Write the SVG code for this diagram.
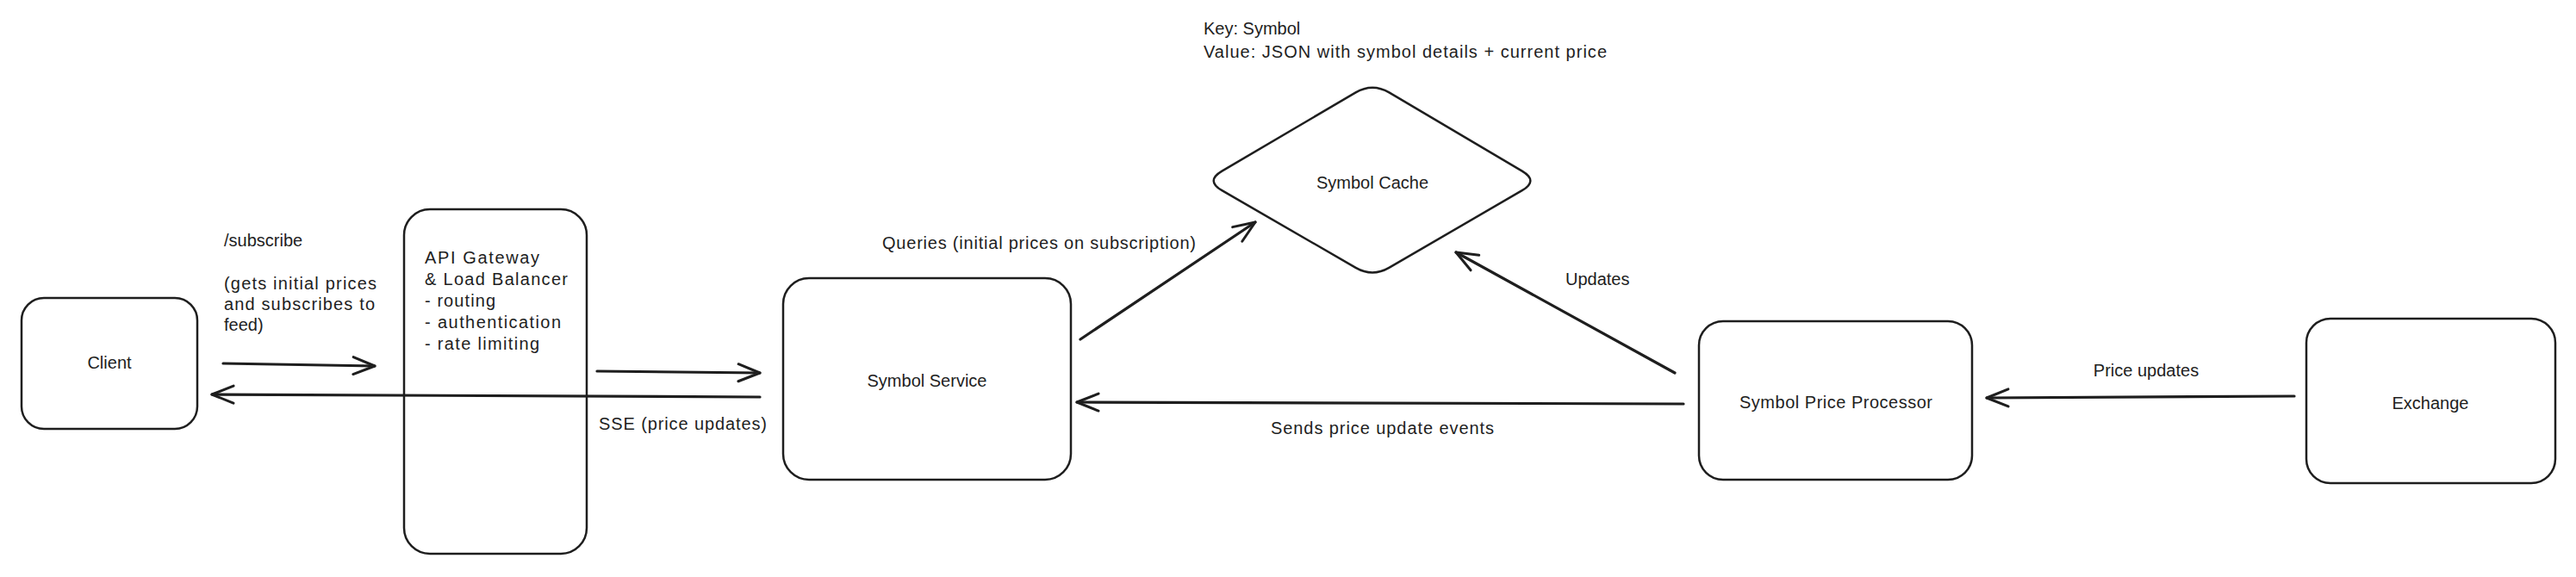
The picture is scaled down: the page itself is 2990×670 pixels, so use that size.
<svg xmlns="http://www.w3.org/2000/svg" width="2990" height="670" viewBox="0 0 2990 670">
<style>
  .node { fill: #ffffff; stroke: #1e1e1e; stroke-width: 2.5; }
  .conn { fill: none; stroke: #1e1e1e; stroke-width: 3.2; stroke-linecap: round; }
  text { font-family: "Liberation Sans", Arial, sans-serif; font-size: 20px; fill: #1e1e1e; }
  .c { text-anchor: middle; }
</style>
<defs>
  <marker id="arr" markerUnits="userSpaceOnUse" markerWidth="34" markerHeight="28" viewBox="-30 -14 34 28" refX="0" refY="0" orient="auto">
    <path d="M -25 -10 L 0 0 L -25 10" fill="none" stroke="#1e1e1e" stroke-width="3" stroke-linecap="round" stroke-linejoin="round"/>
  </marker>
</defs>
<rect width="2990" height="670" fill="#ffffff"/>

<g id="client">
  <rect class="node" x="25" y="346" width="204" height="152" rx="26"/>
  <text class="c" x="127" y="428">Client</text>
</g>

<g id="api-gateway">
  <rect class="node" x="469" y="243" width="212" height="400" rx="30"/>
  <text x="493" y="306" textLength="133">API Gateway</text>
  <text x="493" y="331" textLength="166">&amp; Load Balancer</text>
  <text x="493" y="356" textLength="82">- routing</text>
  <text x="493" y="381" textLength="158">- authentication</text>
  <text x="493" y="406" textLength="133">- rate limiting</text>
</g>

<g id="symbol-service">
  <rect class="node" x="909" y="323" width="334" height="234" rx="30"/>
  <text class="c" x="1076" y="449">Symbol Service</text>
</g>

<g id="symbol-cache">
  <path class="node" d="M 1418.4 198.6 L 1573.6 107.4 Q 1593 96 1612.4 107.4 L 1766.7 198.6 Q 1786 210 1766.7 221.2 L 1612.3 310.8 Q 1593 322 1573.6 310.8 L 1418.4 221.2 Q 1399 210 1418.4 198.6 Z"/>
  <text class="c" x="1593" y="219">Symbol Cache</text>
</g>

<g id="symbol-price-processor">
  <rect class="node" x="1972" y="373" width="317" height="184" rx="28"/>
  <text class="c" x="2131" y="474" textLength="224">Symbol Price Processor</text>
</g>

<g id="exchange">
  <rect class="node" x="2677" y="370" width="289" height="191" rx="28"/>
  <text class="c" x="2821" y="475">Exchange</text>
</g>

<g id="cache-note">
  <text x="1397" y="40">Key: Symbol</text>
  <text x="1397" y="67" textLength="468">Value: JSON with symbol details + current price</text>
</g>

<g id="connectors">
  <line class="conn" x1="259" y1="422" x2="435" y2="425" marker-end="url(#arr)"/>
  <line class="conn" x1="882" y1="461" x2="246" y2="458" marker-end="url(#arr)"/>
  <line class="conn" x1="693" y1="431" x2="882" y2="433" marker-end="url(#arr)"/>
  <line class="conn" x1="1254" y1="394" x2="1457" y2="258" marker-end="url(#arr)"/>
  <line class="conn" x1="1944" y1="433" x2="1690" y2="293" marker-end="url(#arr)"/>
  <line class="conn" x1="1954" y1="469" x2="1250" y2="467" marker-end="url(#arr)"/>
  <line class="conn" x1="2663" y1="460" x2="2306" y2="462" marker-end="url(#arr)"/>

  <text x="260" y="286">/subscribe</text>
  <text x="260" y="336" textLength="177">(gets initial prices</text>
  <text x="260" y="360" textLength="175">and subscribes to</text>
  <text x="260" y="384">feed)</text>
  <text x="695" y="499" textLength="195">SSE (price updates)</text>
  <text x="1024" y="289" textLength="364">Queries (initial prices on subscription)</text>
  <text x="1817" y="331">Updates</text>
  <text x="1475" y="504" textLength="259">Sends price update events</text>
  <text class="c" x="2491" y="437">Price updates</text>
</g>
</svg>
